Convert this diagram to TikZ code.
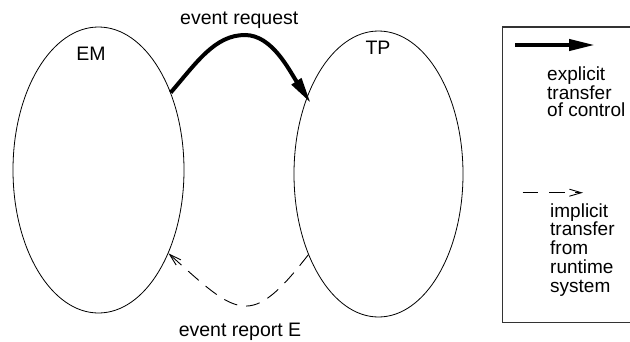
\documentclass[tikz,border=0pt]{standalone}
\usepackage{fontspec}
\setmainfont{Liberation Sans}
\usetikzlibrary{shapes.geometric,arrows.meta}
\begin{document}
\begin{tikzpicture}[x=1pt,y=-1pt,
  proc/.style={draw=black, line width=0.8pt, ellipse, inner sep=0pt},
  lbl/.style={font=\fontsize{19.5}{18}\selectfont, inner sep=0pt, anchor=base},
  legtext/.style={align=left, inner sep=0pt, anchor=north west},
  explicitarrow/.style={line width=4pt, -{Triangle[length=26pt,width=11pt]}},
  implicitarrow/.style={line width=0.9pt, dash pattern=on 14pt off 9pt, -{Straight Barb[length=12pt,width=7pt]}},
  legbox/.style={draw=black!80, line width=1.3pt}
]
\useasboundingbox (0,0) rectangle (630,341);
% processes
\node[proc, minimum width=171pt, minimum height=286pt] (EMe) at (98.5,170) {};
\node[proc, minimum width=169pt, minimum height=286pt] (TPe) at (378.5,174) {};
\node[lbl] (EMl) at (91,60) {EM};
\node[lbl] (TPl) at (378,54.3) {TP};
% connectors
\draw[explicitarrow, shorten >=-7pt] (EMe.47.5) .. controls (197,62) and (215,35) .. (245,35)
   .. controls (272,35) and (289,70) .. (TPe.133);
\node[lbl] (req) at (239.3,24) {event request};
\draw[implicitarrow] (TPe.229) .. controls (250,330) and (238,316) .. (EMe.-50.5);
\node[lbl] (rep) at (240,336) {event report E};
% legend
\draw[legbox] (632,27) -- (502.5,27) -- (502.5,322.5) -- (632,322.5);
\coordinate (ea) at (515,45);
\coordinate (eb) at (595,45);
\draw[explicitarrow] (ea) -- (eb);
\node[legtext, font=\fontsize{19}{17.5}\selectfont] (etext) at (547,66.4) {explicit\\transfer\\of control};
\coordinate (ia) at (522.7,192.7);
\coordinate (ib) at (583,192.7);
\draw[implicitarrow, dash pattern=on 15.6pt off 10.7pt] (ia) -- (ib);
\node[legtext, font=\fontsize{19}{18.75}\selectfont] (itext) at (550,203.1) {implicit\\transfer\\from\\runtime\\system};
\end{tikzpicture}
\end{document}
